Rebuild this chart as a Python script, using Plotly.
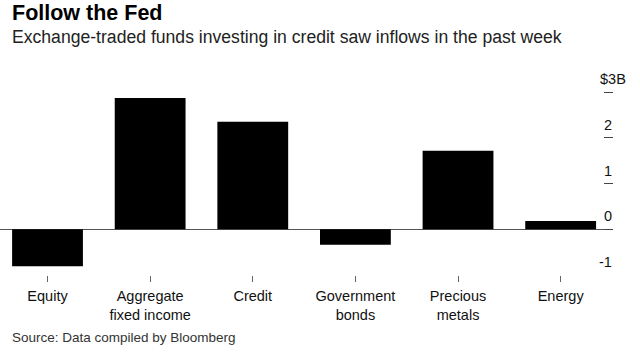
import plotly.graph_objects as go

# ---- data ----
categories = ["Equity", "Aggregate fixed income", "Credit", "Government bonds", "Precious metals", "Energy"]
category_labels = ["Equity", "Aggregate<br>fixed income", "Credit", "Government<br>bonds", "Precious<br>metals", "Energy"]
flows_bn = [-0.81, 2.87, 2.35, -0.34, 1.72, 0.18]
y_tick_values = [-1, 0, 1, 2, 3]
y_tick_labels = ["-1", "0", "1", "2", "$3B"]

title = "Follow the Fed"
subtitle = "Exchange-traded funds investing in credit saw inflows in the past week"
source = "Source: Data compiled by Bloomberg"

# ---- layout geometry ----
W, H = 640, 352
M_T, M_B, M_L, M_R = 83, 77, 0, 27
PH = H - M_T - M_B
FONT = "Liberation Sans, Arial, Helvetica, sans-serif"


def py2paper(py):
    return (M_T + PH - py) / PH


fig = go.Figure()
fig.add_trace(go.Bar(
    x=categories, y=flows_bn,
    marker=dict(color="#000000", line=dict(width=0)),
    width=0.69,
    hoverinfo="skip",
))

annotations = [
    dict(text="<b>" + title + "</b>", x=0.016, y=py2paper(13), xref="paper", yref="paper",
         xanchor="left", yanchor="middle", showarrow=False,
         font=dict(family=FONT, size=21.5, color="#000000")),
    dict(text=subtitle, x=0.016, y=py2paper(37), xref="paper", yref="paper",
         xanchor="left", yanchor="middle", showarrow=False,
         font=dict(family=FONT, size=17.6, color="#222222")),
    dict(text=source, x=0.016, y=py2paper(337), xref="paper", yref="paper",
         xanchor="left", yanchor="middle", showarrow=False,
         font=dict(family=FONT, size=13.5, color="#333333")),
]
for v, lab in zip(y_tick_values, y_tick_labels):
    annotations.append(dict(
        text=lab, x=1.0, y=v, xref="paper", yref="y",
        xanchor="right", yanchor="bottom", showarrow=False,
        xshift=(15 if lab.endswith("B") else 1), yshift=3,
        font=dict(family=FONT, size=14.5, color="#111111"),
    ))

fig.update_layout(
    width=W, height=H,
    margin=dict(t=M_T, b=M_B, l=M_L, r=M_R, pad=0),
    paper_bgcolor="white", plot_bgcolor="white",
    showlegend=False,
    bargap=0.31,
    annotations=annotations,
    xaxis=dict(
        range=[-0.463, 5.51],
        tickmode="array", tickvals=categories, ticktext=category_labels,
        ticks="outside", ticklen=6, tickwidth=1, tickcolor="#666666",
        ticklabelstandoff=2,
        showline=False, showgrid=False, zeroline=False,
        tickfont=dict(family=FONT, size=14.5, color="#111111"),
        fixedrange=True,
    ),
    yaxis=dict(
        range=[-1.0, 3.2], side="right",
        tickmode="array", tickvals=y_tick_values,
        showticklabels=False,
        ticks="inside", ticklen=9, tickwidth=1, tickcolor="#444444",
        showline=False, showgrid=False,
        zeroline=True, zerolinecolor="#555555", zerolinewidth=1,
        fixedrange=True,
    ),
)

fig.write_html("out.html", config={"displayModeBar": False})
